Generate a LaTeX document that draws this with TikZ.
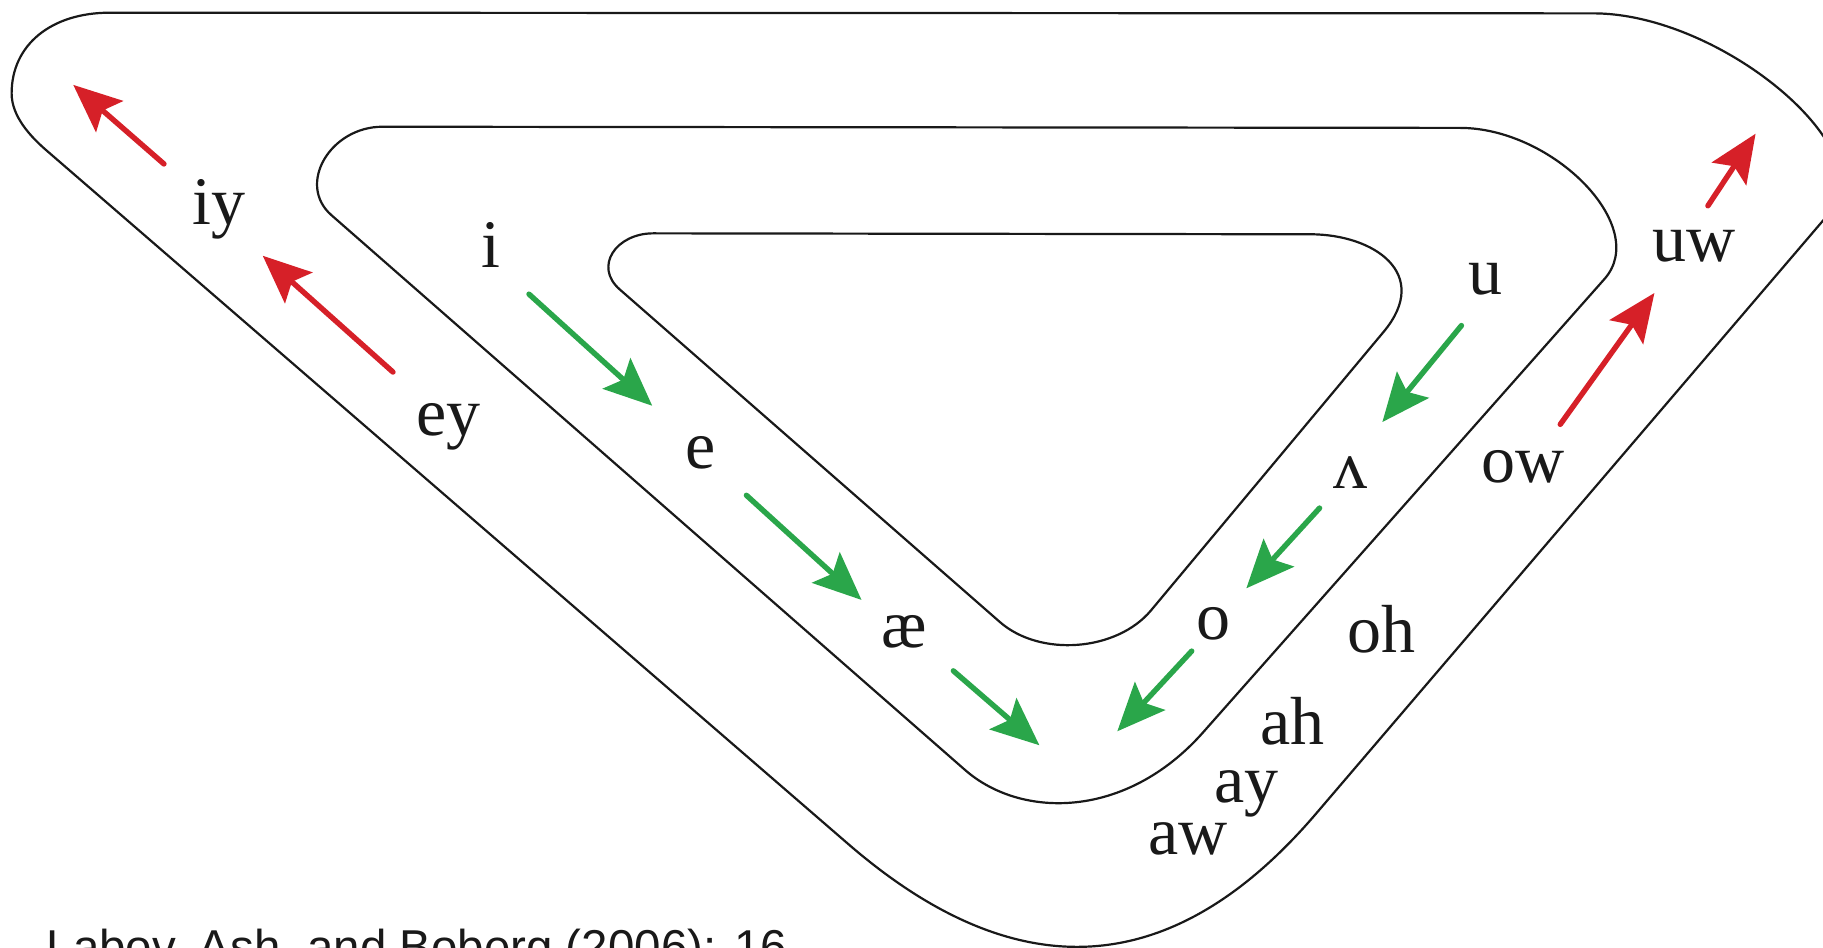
\documentclass[tikz,border=0pt]{standalone}
\usepackage{fontspec}
\setmainfont{Liberation Serif}
\newfontfamily\citefont{Liberation Sans}
\usetikzlibrary{arrows.meta}
\definecolor{arrred}{RGB}{214,32,40}
\definecolor{arrgreen}{RGB}{42,166,74}
\definecolor{ink}{RGB}{25,25,25}
\tikzset{
  contour/.style={line width=2.2pt, draw=ink, line join=round},
  vowel/.style={inner sep=0pt, anchor=base, text=ink, font=\fontsize{68}{68}\selectfont},
  shiftarrow/.style={line width=5.4pt, line cap=round, -{Stealth[length=48pt,width=41pt,inset=9pt]}},
  risearrow/.style={shiftarrow, draw=arrred, fill=arrred},
  fallarrow/.style={shiftarrow, draw=arrgreen, fill=arrgreen},
}
\begin{document}
\begin{tikzpicture}[x=1.1626pt, y=-1.1626pt]
\useasboundingbox (0,0) rectangle (1568,815);
\fill[white] (0,0) rectangle (1568,815);
% outer contour
\draw[contour] (94.6,10.9) -- (1370.5,11.5)
  .. controls (1480,11.5) and (1620.1,128.8) .. (1574.6,182)
  -- (1131.8,700)
  .. controls (1001.8,852) and (866.3,844) .. (730,726.3)
  -- (40,129.4)
  .. controls (26.4,117.6) and (10,100.3) .. (10,80.3)
  .. controls (10,38.7) and (43.8,10.9) .. cycle;
% middle contour
\draw[contour] (329,109) -- (1255.8,110)
  .. controls (1335.8,110) and (1419.8,195) .. (1380,240)
  -- (1034.7,630)
  .. controls (968.4,704.9) and (878.1,704.4) .. (830,662.2)
  -- (285,185)
  .. controls (254.9,158.6) and (284,109) .. cycle;
% inner contour
\draw[contour] (561.8,200.7) -- (1127,201.5)
  .. controls (1182,201.5) and (1231.7,235.6) .. (1190,285.5)
  -- (990,525)
  .. controls (960.5,560.3) and (894.6,565.3) .. (860,535)
  -- (533,248.9)
  .. controls (510.4,229.1) and (530,200.7) .. cycle;
% vowel labels
\node[vowel] (iy) at (188,193) {iy};
\node[vowel] (i) at (422,230) {i};
\node[vowel] (ey) at (386,375) {ey};
\node[vowel] (e) at (603,403) {e};
\node[vowel] (ae) at (778,557) {æ};
\node[vowel] (u) at (1278,253) {u};
\node[vowel] (uw) at (1457,225) {uw};
\node[vowel] (wedge) at (1162,420) {ʌ};
\node[vowel] (ow) at (1310,415) {ow};
\node[vowel] (o) at (1044,550) {o};
\node[vowel] (oh) at (1188,561) {oh};
\node[vowel] (ah) at (1112,640) {ah};
\node[vowel] (ay) at (1072,690) {ay};
\node[vowel] (aw) at (1022,735) {aw};
% arrow end points
\coordinate (r1s) at (141,141); \coordinate (r1e) at (63,73);
\coordinate (r2s) at (338,320); \coordinate (r2e) at (226,220);
\coordinate (r3s) at (1469,177); \coordinate (r3e) at (1510,115);
\coordinate (r4s) at (1342,365); \coordinate (r4e) at (1423,252);
\coordinate (g1s) at (455,253); \coordinate (g1e) at (561,349);
\coordinate (g2s) at (642,426); \coordinate (g2e) at (741,516);
\coordinate (g3s) at (820,577); \coordinate (g3e) at (894,641);
\coordinate (g4s) at (1257,280); \coordinate (g4e) at (1189,363);
\coordinate (g5s) at (1135,437); \coordinate (g5e) at (1072,506);
\coordinate (g6s) at (1025,560); \coordinate (g6e) at (961,629);
\draw[risearrow] (r1s) -- (r1e);
\draw[risearrow] (r2s) -- (r2e);
\draw[risearrow] (r3s) -- (r3e);
\draw[risearrow] (r4s) -- (r4e);
\draw[fallarrow] (g1s) -- (g1e);
\draw[fallarrow] (g2s) -- (g2e);
\draw[fallarrow] (g3s) -- (g3e);
\draw[fallarrow] (g4s) -- (g4e);
\draw[fallarrow] (g5s) -- (g5e);
\draw[fallarrow] (g6s) -- (g6e);
% citation (cut by the lower edge, as in the reference)
\node[inner sep=0pt, anchor=base west, text=ink, font=\citefont\fontsize{47.5}{47.5}\selectfont] (cite) at (40,829) {Labov, Ash, and Boberg (2006): 16};
\end{tikzpicture}
\end{document}
